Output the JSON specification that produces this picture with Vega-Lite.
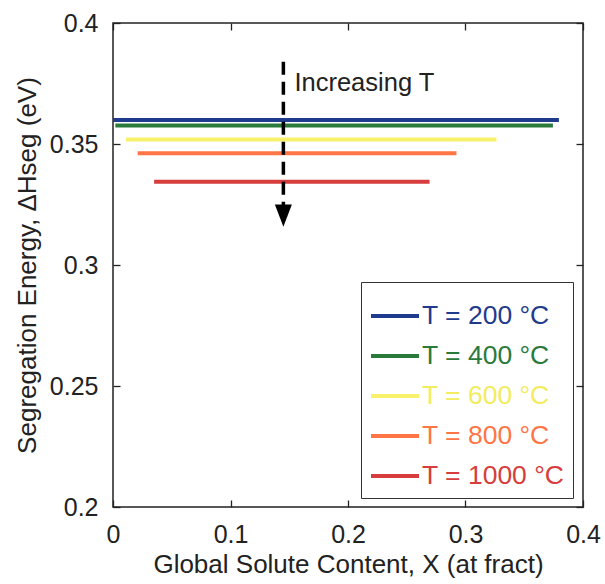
{
  "$schema": "https://vega.github.io/schema/vega-lite/v6.json",
  "width": 470,
  "height": 484,
  "autosize": "none",
  "padding": {"left": 113, "top": 23, "right": 22, "bottom": 77},
  "background": "white",
  "config": {
    "font": "Liberation Sans",
    "view": {"stroke": "#222", "strokeWidth": 1.5},
    "axis": {"domain": false, "grid": false, "tickColor": "#222", "tickSize": -7, "tickWidth": 1.3, "labelColor": "#222", "titleColor": "#222", "labelFont": "Liberation Sans", "titleFont": "Liberation Sans", "titleFontWeight": "normal", "labelFontSize": 25, "titleFontSize": 26}
  },
  "datasets": {
    "series": [
      {"T": "T = 200 °C", "x0": 0, "x1": 0.3795, "y": 0.3599},
      {"T": "T = 400 °C", "x0": 0.002, "x1": 0.3744, "y": 0.3576},
      {"T": "T = 600 °C", "x0": 0.011, "x1": 0.3264, "y": 0.3519},
      {"T": "T = 800 °C", "x0": 0.021, "x1": 0.2923, "y": 0.3462},
      {"T": "T = 1000 °C", "x0": 0.035, "x1": 0.2694, "y": 0.3344}
    ],
    "arrow": [{"x": 0.145, "ya": 0.384, "yb": 0.3248}],
    "head": [{"x": 0.145, "y": 0.3204}],
    "note": [{"x": 0.1544, "y": 0.3751, "label": "Increasing T"}]
  },
  "layer": [
    {
      "layer": [
        {
          "data": {"name": "series"},
          "mark": {"type": "rule", "strokeWidth": 4, "strokeCap": "butt"},
          "encoding": {
            "x": {"field": "x0", "type": "quantitative", "scale": {"domain": [0, 0.4], "nice": false, "zero": false},
              "axis": {"values": [0, 0.1, 0.2, 0.3, 0.4], "format": "~g", "title": "Global Solute Content, X (at fract)", "labelPadding": 22, "titlePadding": 4, "labelFlush": false}},
            "x2": {"field": "x1"},
            "y": {"field": "y", "type": "quantitative", "scale": {"domain": [0.2, 0.4], "nice": false, "zero": false},
              "axis": {"values": [0.2, 0.25, 0.3, 0.35, 0.4], "format": "~g", "title": "Segregation Energy, ΔHseg (eV)", "titleFontSize": 26, "labelPadding": 22, "titlePadding": 9, "labelFlush": false}},
            "color": {
              "field": "T", "type": "nominal",
              "scale": {"domain": ["T = 200 °C", "T = 400 °C", "T = 600 °C", "T = 800 °C", "T = 1000 °C"], "range": ["#1f3b8e", "#2a7a3c", "#f7f26a", "#ff7545", "#d63d3c"]},
              "legend": {
                "orient": "none", "legendX": 248, "legendY": 259, "title": null,
                "symbolType": "stroke", "symbolSize": 2304, "symbolStrokeWidth": 4,
                "labelFontSize": 26.5, "labelFont": "Liberation Sans", "labelLimit": 0, "labelOffset": 1,
                "rowPadding": -2, "padding": 8, "strokeColor": "#333", "fillColor": "white",
                "labelColor": {"expr": "datum.value == 'T = 200 °C' ? '#1f3b8e' : datum.value == 'T = 400 °C' ? '#2a7a3c' : datum.value == 'T = 600 °C' ? '#f2ec5e' : datum.value == 'T = 800 °C' ? '#ff7545' : '#d63d3c'"}
              }
            }
          }
        },
        {
          "data": {"name": "arrow"},
          "mark": {"type": "rule", "color": "black", "strokeWidth": 3.5, "strokeDash": [13, 7], "strokeCap": "butt"},
          "encoding": {
            "x": {"field": "x", "type": "quantitative"},
            "y": {"field": "ya", "type": "quantitative"},
            "y2": {"field": "yb"}
          }
        },
        {
          "data": {"name": "head"},
          "mark": {"type": "point", "shape": "M-1,-1.3L1,-1.3L0,1.3Z", "filled": true, "color": "black", "opacity": 1, "size": 289},
          "encoding": {
            "x": {"field": "x", "type": "quantitative"},
            "y": {"field": "y", "type": "quantitative"}
          }
        },
        {
          "data": {"name": "note"},
          "mark": {"type": "text", "align": "left", "baseline": "middle", "fontSize": 25.5, "font": "Liberation Sans", "color": "#222"},
          "encoding": {
            "x": {"field": "x", "type": "quantitative"},
            "y": {"field": "y", "type": "quantitative"},
            "text": {"field": "label"}
          }
        }
      ]
    },
    {
      "data": {"name": "series"},
      "mark": {"type": "point", "opacity": 0},
      "encoding": {
        "x": {"field": "x0", "type": "quantitative", "scale": {"domain": [0, 0.4], "nice": false, "zero": false},
          "axis": {"orient": "top", "values": [0, 0.1, 0.2, 0.3, 0.4], "labels": false, "title": null}},
        "y": {"field": "y", "type": "quantitative", "scale": {"domain": [0.2, 0.4], "nice": false, "zero": false},
          "axis": {"orient": "right", "values": [0.2, 0.25, 0.3, 0.35, 0.4], "labels": false, "title": null}}
      }
    }
  ],
  "resolve": {"scale": {"x": "independent", "y": "independent"}, "axis": {"x": "independent", "y": "independent"}}
}
